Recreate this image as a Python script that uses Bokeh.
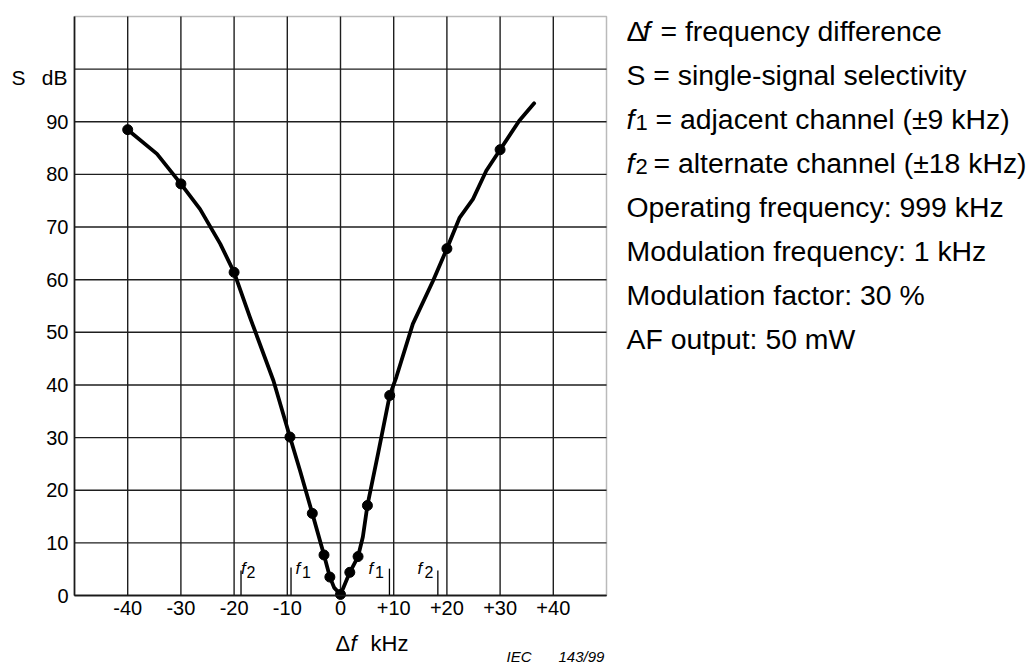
from bokeh.plotting import figure
from bokeh.models import Range1d, FixedTicker, Label, LinearAxis, BoxAnnotation
from bokeh.embed import file_html
from bokeh.resources import INLINE

# ---------------- data ----------------
curve_x = [-40, -34.5, -30, -26.4, -22.6, -20, -17, -12.6, -9.5, -7.6, -5.3, -3.1, -2.0, -1.2,
           0, 0.6, 1.75, 3.3, 4.2, 5.06, 7.05, 9.25, 10.5, 13.6, 17.4, 20, 22.4, 24.9, 27.4,
           30, 33.6, 36.4]
curve_y = [88.5, 83.9, 78.2, 73.4, 66.8, 61.4, 52.8, 40.8, 30.1, 23.7, 15.6, 7.7, 3.5, 1.5,
           0.2, 1.6, 4.4, 7.4, 11.1, 17.1, 26.9, 38.0, 41.5, 51.6, 59.8, 65.9, 71.8, 75.3, 80.7,
           84.7, 90.2, 93.5]
dot_x = [-40, -30, -20, -9.5, -5.3, -3.1, -2.0, 0, 1.75, 3.3, 5.06, 9.25, 20, 30]
dot_y = [88.5, 78.2, 61.4, 30.1, 15.6, 7.7, 3.5, 0.2, 4.4, 7.4, 17.1, 38.0, 65.9, 84.7]

marker_x = [-18.7, -9.3, 9.2, 18.3]
marker_top = [4.75, 5.3, 5.1, 4.75]

x_min, x_max = -50, 50
y_min, y_max = 0, 110
x_ticks = [-40, -30, -20, -10, 0, 10, 20, 30, 40]
x_tick_labels = ["-40", "-30", "-20", "-10", "0", "+10", "+20", "+30", "+40"]
y_ticks = [0, 10, 20, 30, 40, 50, 60, 70, 80, 90, 100]
y_tick_labels = ["0", "10", "20", "30", "40", "50", "60", "70", "80", "90", ""]

notes_plain = ["Operating frequency: 999 kHz", "Modulation frequency: 1 kHz",
               "Modulation factor: 30 %", "AF output: 50 mW"]

FONT = "Liberation Sans"
W, H = 1033, 666

# ---------------- geometry helpers (page pixels -> data) ----------------
FL, FT, FW, FH = 74, 16, 532, 579   # chart area in page pixels


def dx(px):
    return x_min + (px - FL) / FW * (x_max - x_min)


def dy(py):
    return y_min + (FT + FH - py) / FH * (y_max - y_min)


p = figure(width=W, height=H, x_range=Range1d(dx(0), dx(W)), y_range=Range1d(dy(H), dy(0)),
           output_backend="svg", toolbar_location=None, x_axis_type=None, y_axis_type=None,
           min_border=0, min_border_left=0, min_border_right=0, min_border_top=0,
           min_border_bottom=0)
p.background_fill_color = "white"
p.border_fill_color = "white"
p.outline_line_color = None

GRID = "#1e1e1e"

# grid lines across the chart area
p.segment(x0=x_ticks, y0=[y_min] * len(x_ticks), x1=x_ticks, y1=[y_max] * len(x_ticks),
          line_color=GRID, line_width=1.4)
p.segment(x0=[x_min] * len(y_ticks), y0=y_ticks, x1=[x_max] * len(y_ticks), y1=y_ticks,
          line_color=GRID, line_width=1.4)
p.add_layout(BoxAnnotation(left=x_min, right=x_max, bottom=y_min, top=y_max,
                           fill_alpha=0, line_color="#1a1a1a", line_width=1.5))

xaxis = LinearAxis(fixed_location=y_min, bounds=(x_min, x_max), ticker=FixedTicker(ticks=x_ticks))
yaxis = LinearAxis(fixed_location=x_min, bounds=(y_min, y_max), ticker=FixedTicker(ticks=y_ticks))
for ax in (xaxis, yaxis):
    ax.major_tick_out = 0
    ax.major_tick_in = 0
    ax.minor_tick_out = 0
    ax.minor_tick_in = 0
    ax.axis_line_color = "#1a1a1a"
    ax.axis_line_width = 1.7
    ax.major_label_text_font = FONT
    ax.major_label_text_font_size = "20px"
    ax.major_label_text_color = "black"
xaxis.major_label_overrides = {t: l for t, l in zip(x_ticks, x_tick_labels)}
xaxis.major_label_standoff = 5
yaxis.major_label_overrides = {t: l for t, l in zip(y_ticks, y_tick_labels)}
yaxis.major_label_standoff = 6
p.add_layout(xaxis, "below")
p.add_layout(yaxis, "left")

# f1 / f2 marker lines
p.segment(x0=marker_x, y0=[y_min] * len(marker_x), x1=marker_x, y1=marker_top,
          line_color="black", line_width=1.3)

# curve and measured points
p.line(curve_x, curve_y, line_color="black", line_width=3.8, line_join="round", line_cap="round")
p.scatter(dot_x, dot_y, size=10, color="black")


def lab(text, px, py, size, style="normal", align="left"):
    p.add_layout(Label(x=dx(px), y=dy(py), text=text, text_font=FONT,
                       text_font_size=f"{size}px", text_font_style=style,
                       text_align=align, text_baseline="alphabetic", text_color="black"))


# y axis title
lab("S", 11, 77, 21)
lab("dB", 67, 77, 21, align="right")
# x axis title
lab("\u0394", 335, 643, 22)
lab("f", 350, 643, 22, style="italic")
lab("kHz", 370, 643, 22)

# f1 / f2 labels near markers
lab("f", 240.5, 568, 17, style="italic")
lab("2", 246, 571, 16)
lab("f", 295, 568, 17, style="italic")
lab("1", 301.5, 571, 16)
lab("f", 368, 568, 17, style="italic")
lab("1", 374.5, 571, 16)
lab("f", 417, 568, 17, style="italic")
lab("2", 424, 571, 16)

# source note
lab("IEC", 506, 656, 15, style="italic")
lab("143/99", 558, 656, 15, style="italic")

# explanatory notes on the right
B0, DL, FS = 30, 44, 28.4
lab("\u0394", 626, B0, FS)
lab("f", 642, B0, FS, style="italic")
lab("= frequency difference", 660, B0, FS)
lab("S = single-signal selectivity", 626, B0 + DL, FS)
lab("f", 626, B0 + 2 * DL, FS, style="italic")
lab("1", 635, B0 + 2 * DL + 4, 22)
lab("= adjacent channel (\u00b19 kHz)", 655, B0 + 2 * DL, FS)
lab("f", 626, B0 + 3 * DL, FS, style="italic")
lab("2", 635, B0 + 3 * DL + 4, 22)
lab("= alternate channel (\u00b118 kHz)", 653, B0 + 3 * DL, FS)
for i, t in enumerate(notes_plain):
    lab(t, 626, B0 + (4 + i) * DL, FS)

open("out.html", "w").write(file_html(p, INLINE))
